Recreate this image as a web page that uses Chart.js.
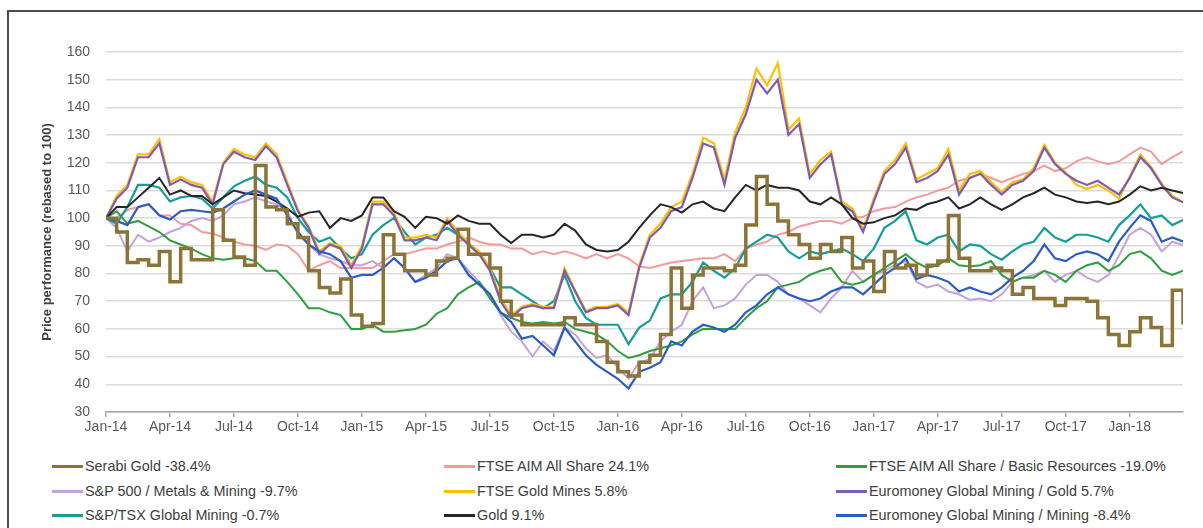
<!DOCTYPE html>
<html>
<head>
<meta charset="utf-8">
<script src="https://cdn.jsdelivr.net/npm/chart.js@4.4.0/dist/chart.umd.min.js"></script>
<style>
  body { margin: 0; background: #fff; font-family: 'Liberation Sans', Arial, sans-serif; }
  #wrap { position: relative; width: 1203px; height: 528px; overflow: hidden; }
  #frame { position: absolute; left: 7px; top: 10px; width: 1300px; height: 700px; border-left: 2px solid #4d4d4d; border-top: 2px solid #4d4d4d; }
  #chart { position: absolute; left: 0; top: 0; }
  .leg { position: absolute; font-size: 14.4px; color: #404040; white-space: nowrap; line-height: 16px; }
  .leg span { display: inline-block; width: 31px; height: 3px; margin-right: 2px; vertical-align: middle; position: relative; top: -1px; }
</style>
</head>
<body>
<div id="wrap">
  <div id="frame"></div>
  <canvas id="chart" width="1203" height="440"></canvas>
  <div id="legend"></div>
</div>
<script>
// x positions in months from Jan-14, half-month steps
const months = [];
for (let i = 0; i <= 101; i++) months.push(i / 2);

const tickLabels = ['Jan-14', 'Apr-14', 'Jul-14', 'Oct-14', 'Jan-15', 'Apr-15', 'Jul-15', 'Oct-15',
    'Jan-16', 'Apr-16', 'Jul-16', 'Oct-16', 'Jan-17', 'Apr-17', 'Jul-17', 'Oct-17', 'Jan-18'];

const serabiGold = [
    100, 95, 84, 85, 83, 88, 77, 89, 85, 85, 103, 92, 86, 83, 119, 104, 103, 98, 93, 81, 75, 73, 78, 65, 61, 62,
    94, 87, 81, 81, 79.5, 84.5, 85.5, 96, 87, 87, 82, 70, 65, 61.5, 61.5, 61.5, 61.5, 64, 61.5, 61.5, 55.5, 48, 44.5, 43, 48,
    50.5, 58, 82, 67.5, 79.5, 82, 82, 81, 83, 97.5, 115, 105, 99, 94, 90.5, 85.5, 90.5, 88, 93, 82, 84.5, 73.5, 88, 82, 83,
    79.5, 83, 84.5, 101, 85.5, 81, 81, 82, 81, 72.5, 75, 71, 71, 68.5, 71, 71, 70, 64, 58, 54, 59, 64, 60.5, 54, 74, 61.6
];
const ftseAim = [
    100, 100, 103, 104, 105, 101, 101, 98, 97.5, 95, 94.5, 93, 91.5, 90.5, 90, 88.5, 90.5, 90, 87, 81, 83, 84.5, 82, 82, 82, 82,
    84.5, 87, 87, 88, 89, 89, 90.5, 91.5, 93, 91.5, 90.5, 90.5, 89, 89, 87, 88, 87, 88, 87, 85.5, 87, 85.5, 87, 85.5, 82.5,
    82, 83, 84, 84.5, 85, 85.5, 85.5, 87, 84.5, 89, 90.5, 91.5, 94, 95, 97, 98, 99, 99, 98, 100, 100.5, 102.5, 103.5, 104, 106,
    107.5, 108.5, 110, 111, 113.5, 114.5, 116, 114.5, 113, 114.5, 116, 117, 119, 117, 118, 120.5, 122, 120.5, 119.5, 120.5, 123, 125.5, 124, 119.5, 122, 124.1
];
const ftseAimBasic = [
    100, 102.5, 98, 99, 97, 95, 92, 90.5, 89, 87, 85.5, 85, 85.5, 85.5, 84.5, 81, 81, 77, 72.5, 67.5, 67.5, 66, 65, 60, 60, 61.5,
    59, 59, 59.5, 60, 61.5, 65.5, 67.5, 72.5, 75, 77, 71, 66, 64, 62.5, 62, 62.5, 62, 62.5, 60, 59, 58, 55.5, 52, 49.5, 50.5,
    52, 53, 54, 55.5, 58, 60, 60, 60, 60, 64, 67.5, 70, 75, 76, 77, 79.5, 81, 82, 77, 76, 77, 79.5, 82, 84.5, 87,
    84, 82, 83, 85.5, 83, 82.5, 83, 84.5, 79.5, 77, 78.5, 78.5, 81, 79.5, 77, 81, 83, 84, 81, 83, 87, 88, 85.5, 81, 79.5, 81
];
const spMetals = [
    100, 96.5, 88, 94, 91.5, 93, 95, 96.5, 99, 100, 99, 101, 105, 106, 107.5, 106, 105, 102.5, 94, 90.5, 87, 85.5, 84.5, 83, 83, 84.5,
    82, 85.5, 82, 77, 79.5, 82, 87, 85.5, 81, 77, 72.5, 65, 59, 55.5, 50, 55.5, 52, 60.5, 58, 53, 49.5, 50.5, 46, 42, 48,
    49, 55.5, 59, 61.5, 70, 75, 67.5, 68.5, 71, 76, 79.5, 79.5, 77, 72.5, 71, 68.5, 66, 71, 75, 81, 77, 79.5, 81, 83, 84.5,
    77, 75, 76, 73.5, 72.5, 70.5, 71, 70, 72.5, 77, 78.5, 79.5, 81, 77, 79.5, 81, 78.5, 77, 79.5, 86.5, 94, 96.5, 94, 88, 91.5, 90.3
];
const ftseGoldMines = [
    100, 108, 112, 123, 123, 128.5, 113, 115, 113, 112, 106, 120, 125, 123, 122, 127, 123, 113, 103, 97, 88, 91, 90, 83, 90, 106,
    106, 102, 93, 93, 94, 93, 100, 95, 91, 88, 82, 71, 65, 68, 69, 68, 68, 82, 74, 66.5, 68, 68, 69, 66, 83,
    94, 98, 104, 106, 116, 129, 127, 114, 131, 140, 154, 148, 156, 132, 136, 116, 121, 124, 106, 103.5, 96, 107, 117, 121, 127,
    114, 116, 118, 125, 110, 116, 117, 113, 109.5, 113, 114, 118, 126.5, 120, 116.5, 112, 110.5, 112, 110, 107, 115, 123, 118.5, 112.5, 108, 105.8
];
const euroGold = [
    100, 107, 111, 122, 122, 127, 112, 114, 112, 111, 105, 119.5, 124, 122, 121, 126, 122, 112, 102.5, 96.5, 87, 90.5, 89, 82, 89, 105,
    105, 101, 92, 92, 93, 92, 99, 94, 90.5, 87, 81, 70, 64, 67.5, 68.5, 67.5, 67.5, 81, 73.5, 66, 67.5, 67.5, 68.5, 65, 82,
    93, 96.5, 102.5, 104, 114.5, 127, 125.5, 112, 129, 137.5, 150, 145, 150, 130, 134, 114.5, 119.5, 123, 105, 102.5, 95, 106, 116, 119.5, 125.5,
    113, 114.5, 117, 123, 108.5, 114.5, 116, 112, 108.5, 112, 113.5, 117, 125.5, 119.5, 116, 113.5, 112, 113.5, 111, 108.5, 114.5, 122, 118, 112, 107.5, 105.7
];
const spTsx = [
    100, 98, 104, 112, 112, 111, 106, 107.5, 108, 107, 103.5, 107.5, 111.5, 113.5, 115, 112, 111, 107.5, 100, 95, 91.5, 93, 89, 85.5, 87, 94,
    97.5, 100, 95, 90.5, 93, 94, 96.5, 94, 90.5, 87, 82, 75, 75, 72.5, 70, 67.5, 70, 79.5, 70, 64, 61.5, 61.5, 61.5, 54.5, 60.5,
    63, 71, 72.5, 72.5, 77, 84, 81, 78.5, 82, 89, 91.5, 94, 93, 88, 85.5, 88, 87, 88, 89, 87, 84.5, 89, 96.5, 99, 102.5,
    92, 90.5, 93, 94, 88, 90.5, 90, 87, 85, 88, 90.5, 91.5, 96.5, 93, 91.5, 94, 94, 93, 91.5, 97.5, 101, 105, 100, 101, 97.5, 99.3
];
const gold = [
    100, 104, 104, 107.5, 111, 114.5, 108.5, 110, 108, 108, 105, 107.5, 110, 109, 108.5, 108, 106, 103.5, 100.5, 102, 102.5, 96.5, 100, 99, 101, 107.5,
    107.5, 102.5, 100.5, 96.5, 100.5, 100, 98, 101, 99, 98, 98, 94, 91, 94, 94, 93, 94, 98, 95.5, 90.5, 88.5, 88, 88.5, 91.5, 96.5,
    101, 105, 104, 102, 105, 106, 103.5, 102.5, 107.5, 112, 110, 112, 111, 111, 110, 106, 105, 107.5, 105, 100, 98, 98.5, 100, 101, 103.5,
    103, 105, 106, 107.5, 103.5, 105, 107.5, 105, 103, 105, 107.5, 109, 111, 108.5, 107.5, 106, 105.5, 106, 105, 106, 108.5, 111.5, 110, 111, 110, 109.1
];
const euroMining = [
    100, 99, 97.5, 104, 105, 101, 99.5, 102.5, 103, 102.5, 102, 103.5, 106, 108.5, 110, 108.5, 107, 101, 95, 90.5, 88, 87, 84.5, 78.5, 79.5, 79.5,
    82, 85.5, 82, 77, 78.5, 81, 84.5, 85.5, 79.5, 76, 72.5, 66, 62.5, 56.5, 57.5, 54, 50.5, 60.5, 55.5, 50.5, 47, 44.5, 42, 38.5, 44.5,
    46, 48, 55.5, 54, 59, 61.5, 60.5, 59, 61.5, 66, 68.5, 72.5, 75, 72.5, 71, 70, 71, 73.5, 75, 75, 72.5, 76, 79.5, 82, 85.5,
    78, 79.5, 78.5, 77, 73.5, 75, 73.5, 72.5, 75, 78.5, 81, 84.5, 90.5, 85.5, 84.5, 87, 88, 87, 84.5, 91.5, 96.5, 101, 99, 91.5, 93, 91.6
];

const seriesNames = [
    'Serabi Gold -38.4%', 'FTSE AIM All Share 24.1%', 'FTSE AIM All Share / Basic Resources -19.0%',
    'S&P 500 / Metals & Mining -9.7%', 'FTSE Gold Mines 5.8%', 'Euromoney Global Mining / Gold 5.7%',
    'S&P/TSX Global Mining -0.7%', 'Gold 9.1%', 'Euromoney Global Mining / Mining -8.4%'
];
const seriesData = [serabiGold, ftseAim, ftseAimBasic, spMetals, ftseGoldMines, euroGold, spTsx, gold, euroMining];
const seriesColors = ['#8c7436', '#f49a9a', '#2f9e3f', '#c3a3da', '#ffbf00', '#7f5bb5', '#159e98', '#262626', '#2b5cc4'];
const seriesWidths = [3.5, 2, 2, 2, 2.2, 2.2, 2.2, 2, 2.2];
const drawOrder = [0, 8, 6, 7, 4, 3, 5, 2, 1];

const datasets = seriesNames.map((name, i) => ({
    label: name,
    data: months.map((m, j) => ({ x: m, y: seriesData[i][j] })),
    borderColor: seriesColors[i],
    backgroundColor: seriesColors[i],
    borderWidth: seriesWidths[i],
    pointRadius: 0,
    tension: 0,
    stepped: i === 0,
    order: drawOrder[i]
}));

const tickFont = { family: "'Liberation Sans', Arial, sans-serif", size: 14 };

new Chart(document.getElementById('chart'), {
    type: 'line',
    data: { datasets: datasets },
    options: {
        responsive: false,
        animation: false,
        devicePixelRatio: 1,
        layout: { padding: { left: 40, right: 20, top: 52, bottom: 0 } },
        plugins: { legend: { display: false }, tooltip: { enabled: false } },
        scales: {
            x: {
                type: 'linear',
                min: 0,
                max: 50.5,
                afterBuildTicks: scale => { scale.ticks = tickLabels.map((t, i) => ({ value: i * 3 })); },
                afterFit: scale => { scale.height = 28; },
                ticks: {
                    autoSkip: false,
                    maxRotation: 0,
                    color: '#595959',
                    font: tickFont,
                    padding: 2,
                    callback: value => tickLabels[Math.round(value / 3)]
                },
                grid: { drawOnChartArea: false, drawTicks: true, tickLength: 5, color: '#a6a6a6', lineWidth: 1.5 },
                border: { color: '#a6a6a6', width: 1.5 }
            },
            y: {
                min: 30,
                max: 160,
                afterFit: scale => { scale.width = 66; },
                ticks: { stepSize: 10, color: '#595959', font: tickFont, padding: 16 },
                grid: { color: '#dcdcdc', lineWidth: 1.5, drawTicks: false },
                border: { display: false },
                title: {
                    display: true,
                    text: 'Price performance (rebased to 100)',
                    color: '#404040',
                    font: { family: "'Liberation Sans', Arial, sans-serif", size: 13, weight: 'bold' },
                    padding: 0
                }
            }
        }
    }
});

// legend in three columns below the chart
const legendX = [52, 444, 836];
const legendY = [458, 483, 507];
const legend = document.getElementById('legend');
seriesNames.forEach((name, i) => {
    const d = document.createElement('div');
    d.className = 'leg';
    d.style.left = legendX[i % 3] + 'px';
    d.style.top = legendY[Math.floor(i / 3)] + 'px';
    d.innerHTML = '<span style="background:' + seriesColors[i] + '"></span>' + name.replace(/&/g, '&amp;');
    legend.appendChild(d);
});
</script>
</body>
</html>
